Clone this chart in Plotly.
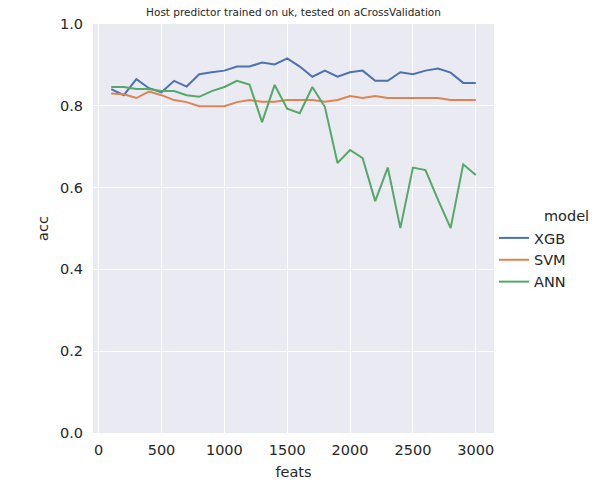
import plotly.graph_objects as go

# feature counts tried (x axis)
feats = list(range(100, 3100, 100))

# accuracy per model
xgb = [0.841, 0.826, 0.865, 0.843, 0.833, 0.861, 0.847, 0.877, 0.882, 0.886,
       0.896, 0.896, 0.906, 0.901, 0.916, 0.896, 0.871, 0.886, 0.871, 0.882,
       0.886, 0.861, 0.861, 0.882, 0.877, 0.886, 0.891, 0.881, 0.856, 0.856]
svm = [0.830, 0.828, 0.819, 0.835, 0.826, 0.814, 0.809, 0.799, 0.799, 0.799,
       0.809, 0.814, 0.810, 0.810, 0.814, 0.814, 0.814, 0.810, 0.814, 0.824,
       0.819, 0.824, 0.819, 0.819, 0.819, 0.819, 0.819, 0.814, 0.814, 0.814]
ann = [0.846, 0.846, 0.841, 0.841, 0.836, 0.836, 0.826, 0.822, 0.836, 0.846,
       0.861, 0.852, 0.760, 0.851, 0.793, 0.782, 0.846, 0.797, 0.660, 0.692,
       0.672, 0.567, 0.649, 0.501, 0.649, 0.643, 0.570, 0.501, 0.657, 0.631]

models = ["XGB", "SVM", "ANN"]
colors = ["#4C72B0", "#DD8452", "#55A868"]
series = [xgb, svm, ann]

text_color = "#262626"
font = "DejaVu Sans"

fig = go.Figure()
for name, col, vals in zip(models, colors, series):
    fig.add_trace(go.Scatter(x=feats, y=vals, mode="lines", name=name,
                             line=dict(color=col, width=2)))

fig.update_layout(
    width=602, height=500,
    margin=dict(l=93, r=108, t=24, b=67, autoexpand=False),
    paper_bgcolor="white",
    plot_bgcolor="#EAEAF2",
    font=dict(family=font, size=14.5, color=text_color),
    title=dict(text="Host predictor trained on uk, tested on aCrossValidation",
               x=0.5, xref="paper", xanchor="center", y=0.975, yref="container",
               yanchor="middle", font=dict(size=10.5, color=text_color)),
    legend=dict(x=1.0, xanchor="left", y=0.423, yanchor="middle",
                bgcolor="rgba(0,0,0,0)", font=dict(size=14.5), tracegroupgap=0),
    showlegend=True,
)
# legend title drawn as a note so it lines up with the entry labels
fig.add_annotation(text="model", xref="paper", yref="paper", x=1.1197, y=0.5306,
                   xanchor="left", yanchor="middle", showarrow=False,
                   font=dict(size=14.5, color=text_color))
fig.update_xaxes(range=[-45, 3145], tickvals=[0, 500, 1000, 1500, 2000, 2500, 3000],
                 showgrid=True, gridcolor="white", gridwidth=1.3, zeroline=False,
                 showline=False, ticks="outside", ticklen=4, tickcolor="rgba(0,0,0,0)",
                 automargin=False,
                 title=dict(text="feats", standoff=9, font=dict(size=14.5)))
fig.update_yaxes(range=[0, 1], tickvals=[0, 0.2, 0.4, 0.6, 0.8, 1.0],
                 tickformat=".1f", showgrid=True, gridcolor="white", gridwidth=1.3,
                 zeroline=False, showline=False, ticks="outside", ticklen=6,
                 tickcolor="rgba(0,0,0,0)", automargin=False,
                 title=dict(text="acc", standoff=7, font=dict(size=14.5)))

# drop the browser's default page margin so the figure fills the window,
# and hide the toolbar so it never covers the title
fig.write_html("out.html", config={"displayModeBar": False},
               post_script="document.body.style.margin = '0';")
